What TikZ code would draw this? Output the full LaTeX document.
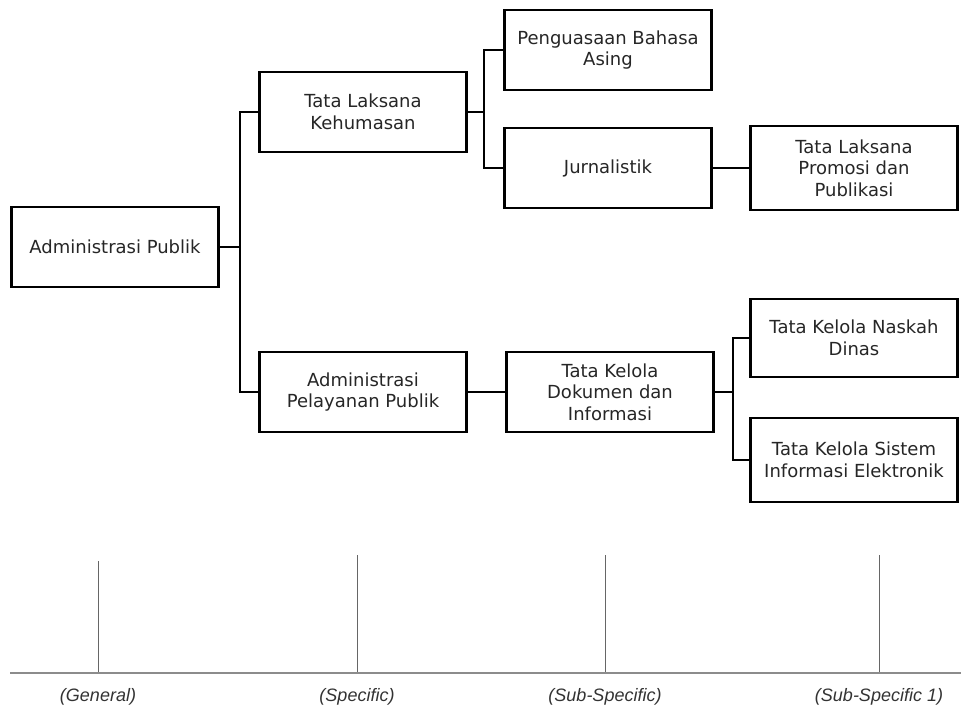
\documentclass[tikz,border=0pt]{standalone}
\usepackage{fontspec}
\setmainfont{DejaVu Sans}
\newfontfamily\axisfont{Liberation Sans}

\begin{document}
\begin{tikzpicture}[x=1pt,y=-1pt,
    box/.style={draw,line width=2.4pt,minimum width=207pt,minimum height=80pt,
      align=center,inner sep=2pt,text=black!85,font=\fontsize{18}{21.5}\selectfont},
    link/.style={line width=2.4pt},
    level/.style={font=\axisfont\itshape\fontsize{18}{21}\selectfont,text=black!80}]
  \useasboundingbox (0,0) rectangle (961,712);
  \node[box] (A) at (115,247) {Administrasi Publik};
  \node[box] (B) at (363,112) {Tata Laksana\\Kehumasan};
  \node[box] (C) at (363,392) {Administrasi\\Pelayanan Publik};
  \node[box] (D) at (608,50) {Penguasaan Bahasa\\Asing};
  \node[box] (E) at (608,168) {Jurnalistik};
  \node[box,minimum height=84pt] (F) at (854,168) {Tata Laksana\\Promosi dan\\Publikasi};
  \node[box] (G) at (610,392) {Tata Kelola\\Dokumen dan\\Informasi};
  \node[box,minimum height=78pt] (H) at (854,338) {Tata Kelola Naskah\\Dinas};
  \node[box,minimum height=84pt] (I) at (854,460) {Tata Kelola Sistem\\Informasi Elektronik};
  \coordinate (j1) at (240,247);
  \coordinate (j2) at (484,112);
  \coordinate (j3) at (733,392);
  \draw[link] (A.east) -- (j1);
  \draw[link] (B.west) -| (j1) |- (C.west);
  \draw[link] (B.east) -- (j2);
  \draw[link] (D.west) -| (j2) |- (E.west);
  \draw[link] (E.east) -- (F.west);
  \draw[link] (C.east) -- (G.west);
  \draw[link] (G.east) -- (j3);
  \draw[link] (H.west) -| (j3) |- (I.west);
  \coordinate (axl) at (10,673);
  \coordinate (axr) at (961,673);
  \draw[black!45,line width=2pt] (axl) -- (axr);
  \foreach \i/\x/\t/\lab in {1/98/561/General,2/357/555/Specific,3/605/555/Sub-Specific,4/879/555/Sub-Specific 1}{
    \coordinate (tt\i) at (\x,\t);
    \coordinate (tb\i) at (\x,672);
    \draw[black!60,line width=0.8pt] (tt\i) -- (tb\i);
    \node[level] (lab\i) at (\x,697) {(\lab)};
  }
\end{tikzpicture}
\end{document}
